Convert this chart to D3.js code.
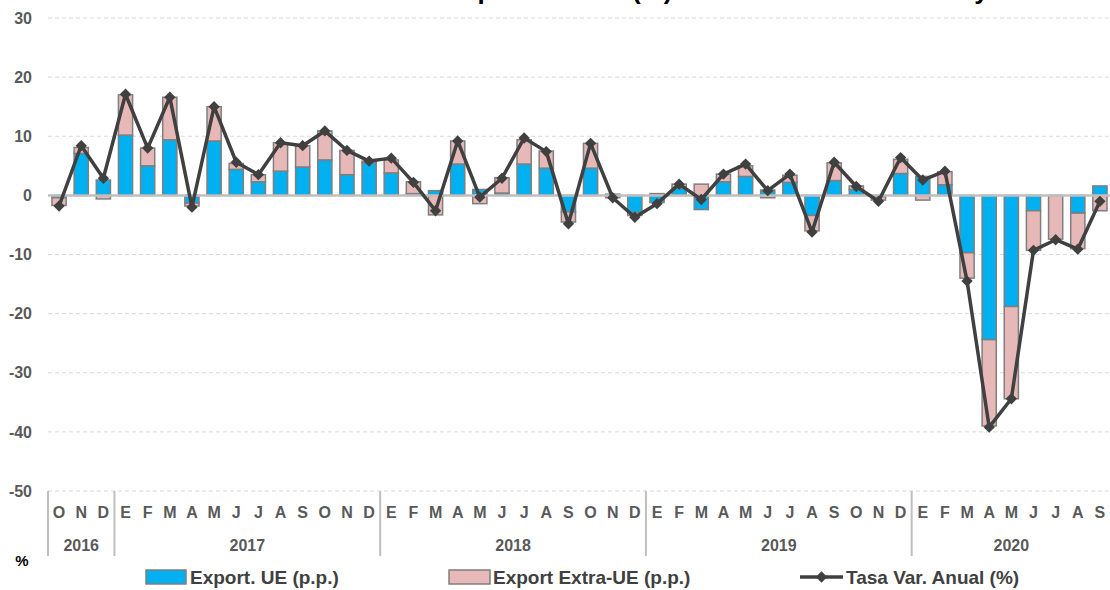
<!DOCTYPE html>
<html>
<head>
<meta charset="utf-8">
<script src="https://cdn.jsdelivr.net/npm/d3@7"></script>
<style>
  body { margin: 0; background: #fff; }
  text { font-family: "Liberation Sans", Arial, sans-serif; font-weight: bold; }
</style>
</head>
<body>
<div id="chart"></div>
<script>
const months = [
  "O", "N", "D",
  "E", "F", "M", "A", "M", "J", "J", "A", "S", "O", "N", "D",
  "E", "F", "M", "A", "M", "J", "J", "A", "S", "O", "N", "D",
  "E", "F", "M", "A", "M", "J", "J", "A", "S", "O", "N", "D",
  "E", "F", "M", "A", "M", "J", "J", "A", "S"
];
const yearLabels = ["2016", "2017", "2018", "2019", "2020"];
const yearCounts = [3, 12, 12, 12, 9];

// Export. UE (p.p.)
const exportUE = [
  -0.4, 7.1, 2.6,
  10.2, 5.0, 9.4, -1.3, 9.2, 4.4, 2.3, 4.1, 4.8, 6.0, 3.5, 5.5,
  3.8, 0.3, 0.8, 5.3, 1.0, 0.4, 5.3, 4.6, -2.8, 4.6, 0.2, -2.9,
  -1.2, 1.2, -2.4, 2.3, 3.2, 0.9, 2.2, -3.4, 2.5, 1.0, -0.2, 3.7,
  3.2, 1.8, -9.7, -24.4, -18.8, -2.6, 0.0, -3.0, 1.6
];
// Export Extra-UE (p.p.)
const exportExtraUE = [
  -1.3, 1.0, -0.6,
  6.8, 3.0, 7.2, -0.5, 5.8, 1.0, 1.2, 4.8, 3.6, 4.9, 4.1, 0.3,
  2.2, 2.0, -3.3, 3.9, -1.4, 2.6, 4.1, 2.9, -1.7, 4.2, -0.4, -0.5,
  0.3, 0.7, 1.9, 1.3, 1.8, -0.4, 1.2, -2.6, 3.0, 0.6, -0.6, 2.4,
  -0.8, 2.2, -4.3, -14.6, -15.6, -6.7, -7.4, -6.0, -2.6
];
// Tasa Var. Anual (%)
const tasaAnual = [
  -1.8, 8.4, 2.9,
  17.1, 8.0, 16.6, -2.0, 15.0, 5.6, 3.5, 8.9, 8.4, 10.9, 7.6, 5.8,
  6.3, 2.2, -2.6, 9.2, -0.3, 2.9, 9.7, 7.4, -4.8, 8.8, -0.4, -3.7,
  -1.4, 1.9, -0.7, 3.6, 5.3, 0.8, 3.6, -6.2, 5.6, 1.5, -1.0, 6.4,
  2.6, 4.1, -14.5, -39.2, -34.4, -9.3, -7.5, -9.1, -1.0
];
const yTicks = [30, 20, 10, 0, -10, -20, -30, -40, -50];

const titleText = "Tasa de variación anual de las exportaciones (%) - Contribución de la UE y Extra-UE (p.p.)";

const width = 1110;
const height = 590;
const plot = { left: 48, right: 1111, top: 18, bottom: 491 };

const svg = d3.select("#chart")
  .append("svg")
  .attr("width", width)
  .attr("height", height);

const rows = months.map((m, i) => ({ i, ue: exportUE[i], extra: exportExtraUE[i], tasa: tasaAnual[i] }));

const x = d3.scaleBand()
  .domain(d3.range(months.length))
  .range([plot.left, plot.right])
  .paddingInner(0.36)
  .paddingOuter(0.18);

const y = d3.scaleLinear()
  .domain([-50, 30])
  .range([plot.bottom, plot.top]);

const colors = { ue: "#00b0f0", extra: "#e6b9b8" };

// gridlines
svg.append("g")
  .selectAll("line")
  .data(yTicks.filter(d => d !== 0))
  .join("line")
  .attr("x1", plot.left)
  .attr("x2", plot.right)
  .attr("y1", d => y(d))
  .attr("y2", d => y(d))
  .attr("stroke", "#d9d9d9")
  .attr("stroke-width", 1)
  .attr("stroke-dasharray", "4,3");

// y axis labels
const yAxis = d3.axisLeft(y)
  .tickValues(yTicks)
  .tickFormat(d => String(d))
  .tickSize(0)
  .tickPadding(0);

svg.append("g")
  .attr("transform", `translate(32,0)`)
  .call(yAxis)
  .call(g => g.select(".domain").remove())
  .selectAll("text")
  .attr("fill", "#595959")
  .style("font-size", "16px")
  .style("font-family", "Liberation Sans, Arial, sans-serif")
  .style("font-weight", "bold");

// stacked bars
const stack = d3.stack()
  .keys(["ue", "extra"])
  .offset(d3.stackOffsetDiverging);

const series = stack(rows);

svg.append("g")
  .selectAll("g")
  .data(series)
  .join("g")
  .attr("fill", d => colors[d.key])
  .selectAll("rect")
  .data(d => d)
  .join("rect")
  .attr("x", (d, i) => x(i))
  .attr("width", x.bandwidth())
  .attr("y", d => y(Math.max(d[0], d[1])))
  .attr("height", d => Math.abs(y(d[0]) - y(d[1])))
  .attr("stroke", "#7f7f7f")
  .attr("stroke-width", 1.5);

// zero line
svg.append("line")
  .attr("x1", plot.left)
  .attr("x2", plot.right)
  .attr("y1", y(0))
  .attr("y2", y(0))
  .attr("stroke", "#bfbfbf")
  .attr("stroke-width", 2.5);

// line series
const line = d3.line()
  .x(d => x(d.i) + x.bandwidth() / 2)
  .y(d => y(d.tasa));

svg.append("path")
  .datum(rows)
  .attr("fill", "none")
  .attr("stroke", "#404040")
  .attr("stroke-width", 3.5)
  .attr("stroke-linejoin", "round")
  .attr("d", line);

const diamond = d3.symbol(d3.symbolSquare, 64);

svg.append("g")
  .selectAll("path")
  .data(rows)
  .join("path")
  .attr("d", diamond)
  .attr("transform", d => `translate(${x(d.i) + x.bandwidth() / 2},${y(d.tasa)}) rotate(45)`)
  .attr("fill", "#404040");

// category axis: months and years
const slot = x.step();
svg.append("g")
  .selectAll("text")
  .data(months)
  .join("text")
  .attr("x", (d, i) => x(i) + x.bandwidth() / 2)
  .attr("y", 518)
  .attr("text-anchor", "middle")
  .attr("fill", "#595959")
  .style("font-size", "16px")
  .text(d => d);

const yearStarts = yearCounts.map((c, i) => d3.sum(yearCounts.slice(0, i)));

svg.append("g")
  .selectAll("line")
  .data(yearStarts)
  .join("line")
  .attr("x1", d => x(d) - (x.step() - x.bandwidth()) / 2)
  .attr("x2", d => x(d) - (x.step() - x.bandwidth()) / 2)
  .attr("y1", plot.bottom)
  .attr("y2", 556)
  .attr("stroke", "#bfbfbf")
  .attr("stroke-width", 2);

svg.append("g")
  .selectAll("text")
  .data(yearLabels)
  .join("text")
  .attr("x", (d, i) => {
    const a = x(yearStarts[i]) - (x.step() - x.bandwidth()) / 2;
    return a + yearCounts[i] * slot / 2;
  })
  .attr("y", 551)
  .attr("text-anchor", "middle")
  .attr("fill", "#595959")
  .style("font-size", "16px")
  .text(d => d);

svg.append("text")
  .attr("x", 22)
  .attr("y", 566)
  .attr("text-anchor", "middle")
  .attr("fill", "#000")
  .style("font-size", "15px")
  .text("%");

// title (cut by the top edge, as in the source picture)
const title = svg.append("text")
  .attr("y", -1)
  .attr("fill", "#000")
  .style("font-size", "26px")
  .text(titleText);
const off = title.node().getSubStringLength(0, titleText.indexOf("(%)"));
title.attr("x", 632 - off);

// legend
const legend = svg.append("g").attr("class", "legend");

legend.append("rect")
  .attr("x", 146).attr("y", 570).attr("width", 40).attr("height", 14)
  .attr("fill", colors.ue).attr("stroke", "#7f7f7f").attr("stroke-width", 1.5);
legend.append("text")
  .attr("x", 190).attr("y", 584)
  .attr("fill", "#404040")
  .style("font-size", "19px")
  .text("Export. UE (p.p.)");

legend.append("rect")
  .attr("x", 449).attr("y", 570).attr("width", 41).attr("height", 14)
  .attr("fill", colors.extra).attr("stroke", "#7f7f7f").attr("stroke-width", 1.5);
legend.append("text")
  .attr("x", 493).attr("y", 584)
  .attr("fill", "#404040")
  .style("font-size", "19px")
  .text("Export Extra-UE (p.p.)");

legend.append("line")
  .attr("x1", 800).attr("x2", 843).attr("y1", 577).attr("y2", 577)
  .attr("stroke", "#404040").attr("stroke-width", 3.5);
legend.append("path")
  .attr("d", diamond)
  .attr("transform", "translate(821.5,577) rotate(45)")
  .attr("fill", "#404040");
legend.append("text")
  .attr("x", 846).attr("y", 584)
  .attr("fill", "#404040")
  .style("font-size", "19px")
  .text("Tasa Var. Anual (%)");
</script>
</body>
</html>
